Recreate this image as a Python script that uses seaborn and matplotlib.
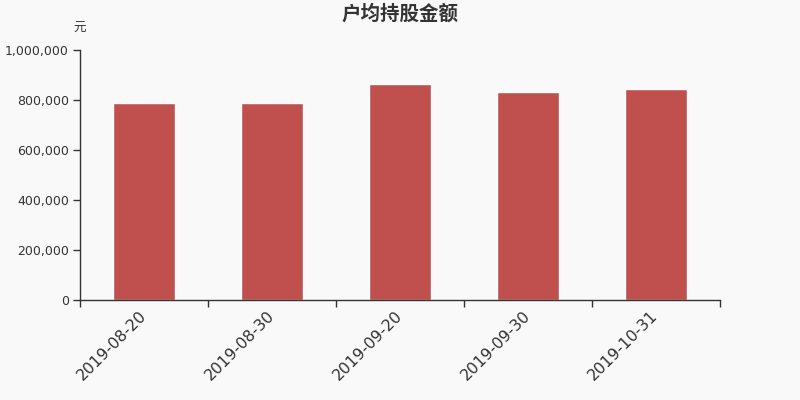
import seaborn as sns
from matplotlib import pyplot as plt
from matplotlib.ticker import FuncFormatter, FixedLocator
from matplotlib.transforms import ScaledTranslation
import pandas as pd

# data
dates = ["2019-08-20", "2019-08-30", "2019-09-20", "2019-09-30", "2019-10-31"]
amounts = [789000, 790000, 866000, 832000, 845000]

df = pd.DataFrame({"date": dates, "amount": amounts})

sns.set_style("white")
plt.rcParams['font.family'] = ['DejaVu Sans', 'Noto Sans CJK SC']

bg = "#f9f9f9"
fig = plt.figure(figsize=(8, 4), dpi=100, facecolor=bg)
ax = fig.add_axes([0.1, 0.25, 0.8, 0.625])
ax.set_facecolor(bg)

sns.barplot(x="date", y="amount", data=df, color="#c0504d", saturation=1,
            width=0.48, ax=ax)

ax.set_xlim(-0.5, len(dates) - 0.5)
ax.set_ylim(0, 1000000)
ax.set_yticks(range(0, 1000001, 200000))
ax.yaxis.set_major_formatter(FuncFormatter(lambda v, p: f"{int(v):,}"))

# tick marks between categories, labels at centres
ax.xaxis.set_minor_locator(FixedLocator([i - 0.5 for i in range(len(dates) + 1)]))
ax.tick_params(axis="x", which="both", bottom=True)
ax.tick_params(axis="x", which="major", length=0, pad=6)
ax.tick_params(axis="x", which="minor", length=5, width=1, color="#333333")
ax.tick_params(axis="y", left=True, length=5, width=1, color="#333333",
               labelsize=9, labelcolor="#333333", pad=3)
shift = ScaledTranslation(-4 / 72, 0, fig.dpi_scale_trans)
for lab in ax.get_xticklabels():
    lab.set_rotation(45)
    lab.set_ha("right")
    lab.set_rotation_mode("anchor")
    lab.set_fontsize(11.3)
    lab.set_color("#333333")
    lab.set_transform(lab.get_transform() + shift)

for s in ["top", "right"]:
    ax.spines[s].set_visible(False)
for s in ["left", "bottom"]:
    ax.spines[s].set_color("#333333")
    ax.spines[s].set_linewidth(1)

ax.set_xlabel("")
ax.set_ylabel("")
fig.text(0.5, 0.965, "户均持股金额", ha="center", va="center", fontsize=14,
         fontweight="bold", color="#333333")
fig.text(0.1, 0.93, "元", ha="center", va="center", fontsize=9, color="#333333")

fig.savefig("out.png", dpi=100, facecolor=bg)
